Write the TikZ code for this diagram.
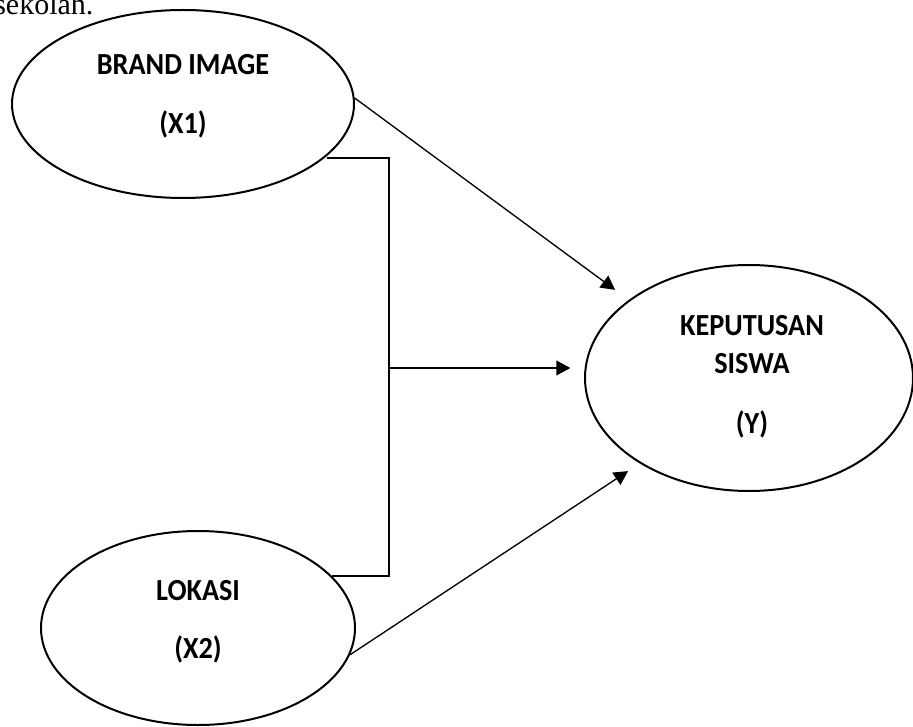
\documentclass[tikz,border=0pt]{standalone}
\usepackage{fontspec}
\setmainfont{Carlito}
\newfontfamily\varfont{Carlito}[FakeStretch=0.92]
\newfontfamily\bodyfont{Liberation Serif}
\usetikzlibrary{arrows.meta,shapes.geometric,positioning,calc}

\begin{document}
\begin{tikzpicture}[
    x=0.75pt,y=-0.75pt,
    var/.style={ellipse,draw,line width=1.5pt,inner sep=0pt},
    lbl/.style={anchor=base,inner sep=0pt,font=\varfont\bfseries\fontsize{23}{28}\selectfont},
    line/.style={line width=1pt},
    arrow/.style={line width=1pt,-{Triangle[length=10.5pt,width=11pt]}}
]
    \useasboundingbox (0,0) rectangle (913,727);

    % line of running text cut off by the top edge
    \node[anchor=base west,inner sep=0pt,font=\bodyfont\fontsize{22.5}{27}\selectfont] (prev) at (-6,15) {sekolah.};

    \node[var,minimum width=256.5pt,minimum height=141pt] (x1) at (183,104) {};
    \node[var,minimum width=235.5pt,minimum height=145.5pt] (x2) at (198,628) {};
    \node[var,minimum width=246pt,minimum height=169.5pt] (y) at (749,378) {};

    \node[lbl] (x1name) at (183,75) {BRAND IMAGE};
    \node[lbl] (x1code) at (183,134) {(X1)};
    \node[lbl] (x2name) at (198,600) {LOKASI};
    \node[lbl] (x2code) at (198,658) {(X2)};
    \node[lbl] (yname) at (752,335) {KEPUTUSAN};
    \node[lbl] (yname2) at (752,373) {SISWA};
    \node[lbl] (ycode) at (752,433) {(Y)};

    \coordinate (ktop) at (389,158);
    \coordinate (kmid) at (389,368);
    \coordinate (kbot) at (389,576);

    \draw[line] (x1.-20 |- ktop) -- (ktop) -- (kbot) -- (x2.21 |- kbot);
    \draw[arrow,shorten >=12.75pt] (x1.2) -- (y.147);
    \draw[arrow,shorten >=10.2pt] (kmid) -- (kmid -| y.west);
    \draw[arrow,shorten >=10.5pt] (x2.-10) -- (y.218);
\end{tikzpicture}
\end{document}
